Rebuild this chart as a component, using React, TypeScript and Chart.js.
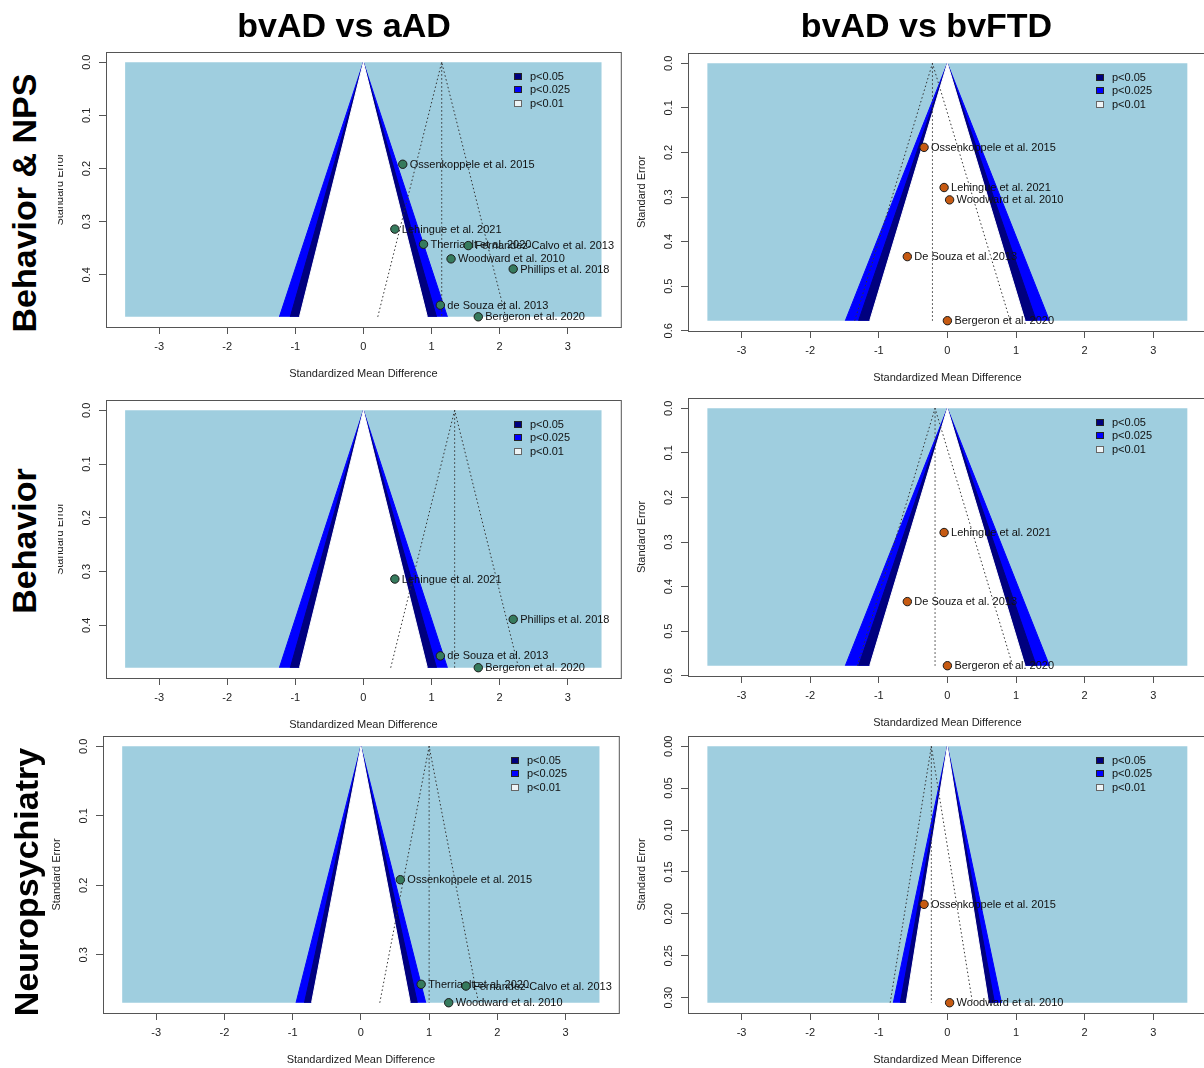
import React, { useEffect, useRef } from "react";
import { Chart, registerables } from "chart.js";

Chart.register(...registerables);

const FONT = '"Liberation Sans", Arial, Helvetica, sans-serif';

// Headings
const columnTitles = ["bvAD vs aAD", "bvAD vs bvFTD"];
const rowTitles = ["Behavior & NPS", "Behavior", "Neuropsychiatry"];

// Axis ticks
const xTickValues = [-3, -2, -1, 0, 1, 2, 3];
const yTicksAad = [0, 0.1, 0.2, 0.3, 0.4];
const yTicksFtd = [0, 0.1, 0.2, 0.3, 0.4, 0.5, 0.6];
const yTicksAadNps = [0, 0.1, 0.2, 0.3];
const yTicksFtdNps = [0, 0.05, 0.1, 0.15, 0.2, 0.25, 0.3];

// Contour legend (significance regions) and their z boundaries
const contourLabels = ["p<0.05", "p<0.025", "p<0.01"];
const contourZ = [1.96, 2.241, 2.576];

// bvAD vs aAD — Behavior & NPS
const aadBnStudies = [
  "Ossenkoppele et al. 2015",
  "Lehingue et al. 2021",
  "Therriault et al. 2020",
  "Fernandez-Calvo et al. 2013",
  "Woodward et al. 2010",
  "Phillips et al. 2018",
  "de Souza et al. 2013",
  "Bergeron et al. 2020",
];
const aadBnSmd = [0.578, 0.462, 0.883, 1.54, 1.287, 2.2, 1.13, 1.687];
const aadBnSe = [0.192, 0.314, 0.3425, 0.345, 0.37, 0.389, 0.457, 0.479];
const aadBnPooled = 1.15;

// bvAD vs aAD — Behavior
const aadBStudies = ["Lehingue et al. 2021", "Phillips et al. 2018", "de Souza et al. 2013", "Bergeron et al. 2020"];
const aadBSmd = [0.462, 2.2, 1.13, 1.687];
const aadBSe = [0.314, 0.389, 0.457, 0.479];
const aadBPooled = 1.34;

// bvAD vs aAD — Neuropsychiatry
const aadNStudies = ["Ossenkoppele et al. 2015", "Therriault et al. 2020", "Fernandez-Calvo et al. 2013", "Woodward et al. 2010"];
const aadNSmd = [0.578, 0.883, 1.54, 1.287];
const aadNSe = [0.192, 0.3425, 0.345, 0.369];
const aadNPooled = 1.0;

// bvAD vs bvFTD — Behavior & NPS
const ftdBnStudies = [
  "Ossenkoppele et al. 2015",
  "Lehingue et al. 2021",
  "Woodward et al. 2010",
  "De Souza et al. 2013",
  "Bergeron et al. 2020",
];
const ftdBnSmd = [-0.34, -0.048, 0.032, -0.584, 0.0];
const ftdBnSe = [0.1886, 0.2787, 0.3064, 0.4337, 0.5775];
const ftdBnPooled = -0.218;

// bvAD vs bvFTD — Behavior
const ftdBStudies = ["Lehingue et al. 2021", "De Souza et al. 2013", "Bergeron et al. 2020"];
const ftdBSmd = [-0.048, -0.584, 0.0];
const ftdBSe = [0.2787, 0.4337, 0.5775];
const ftdBPooled = -0.18;

// bvAD vs bvFTD — Neuropsychiatry
const ftdNStudies = ["Ossenkoppele et al. 2015", "Woodward et al. 2010"];
const ftdNSmd = [-0.34, 0.032];
const ftdNSe = [0.1886, 0.306];
const ftdNPooled = -0.234;

// Styles
const GREEN = "#367B5D";
const ORANGE = "#C65A12";
const LIGHTBLUE = "#9FCEDF";
const NAVY = "#00007E";
const BLUE = "#0000FF";
const LEGEND_FILLS = [NAVY, BLUE, "#EEF4F6"];
const AXIS = "#555";
const TEXT = "#222";

const PAD_TOP = 12;
const PAD_RIGHT = 4;
const Y_W = 53;
const X_H = 54;

type Box = { l: number; t: number; r: number; b: number };
type PanelDef = {
  studies: string[];
  smd: number[];
  se: number[];
  pooled: number;
  yTicks: number[];
  decimals: number;
  color: string;
  box: Box;
  clip?: number;
  tickPad: number;
};

const panels: PanelDef[] = [
  { studies: aadBnStudies, smd: aadBnSmd, se: aadBnSe, pooled: aadBnPooled, yTicks: yTicksAad, decimals: 1, color: GREEN, box: { l: 106, t: 52, r: 622, b: 327 }, clip: 58, tickPad: 4 },
  { studies: ftdBnStudies, smd: ftdBnSmd, se: ftdBnSe, pooled: ftdBnPooled, yTicks: yTicksFtd, decimals: 1, color: ORANGE, box: { l: 688, t: 53, r: 1208, b: 331 }, tickPad: 4 },
  { studies: aadBStudies, smd: aadBSmd, se: aadBSe, pooled: aadBPooled, yTicks: yTicksAad, decimals: 1, color: GREEN, box: { l: 106, t: 400, r: 622, b: 678 }, clip: 58, tickPad: 4 },
  { studies: ftdBStudies, smd: ftdBSmd, se: ftdBSe, pooled: ftdBPooled, yTicks: yTicksFtd, decimals: 1, color: ORANGE, box: { l: 688, t: 398, r: 1208, b: 676 }, tickPad: 4 },
  { studies: aadNStudies, smd: aadNSmd, se: aadNSe, pooled: aadNPooled, yTicks: yTicksAadNps, decimals: 1, color: GREEN, box: { l: 103, t: 736, r: 620, b: 1013 }, tickPad: 4 },
  { studies: ftdNStudies, smd: ftdNSmd, se: ftdNSe, pooled: ftdNPooled, yTicks: yTicksFtdNps, decimals: 2, color: ORANGE, box: { l: 688, t: 736, r: 1208, b: 1013 }, tickPad: 1 },
];

function FunnelPanel({ def }: { def: PanelDef }) {
  const ref = useRef<HTMLCanvasElement | null>(null);
  const { box } = def;
  const canvasLeft = box.l - Y_W;
  const canvasTop = box.t - PAD_TOP;
  const cw = box.r - box.l + Y_W + PAD_RIGHT;
  const ch = box.b - box.t + PAD_TOP + X_H;
  const wrapLeft = def.clip !== undefined ? Math.max(def.clip, canvasLeft) : canvasLeft;

  useEffect(() => {
    if (!ref.current) return;
    const m = Math.max(...def.se);
    const est = def.pooled;
    const tri = (z: number) => [
      { x: -z * m, y: m },
      { x: 0, y: 0 },
      { x: z * m, y: m },
    ];
    const dotted = {
      borderColor: "#333",
      borderWidth: 1,
      borderDash: [1.5, 2.5],
      pointRadius: 0,
      fill: false,
    };
    const datasets: any[] = [
      {
        label: "studies",
        data: def.smd.map((x, i) => ({ x, y: def.se[i] })),
        showLine: false,
        pointRadius: 4.2,
        pointBorderWidth: 1,
        pointBackgroundColor: def.color,
        pointBorderColor: "#1a1a1a",
        backgroundColor: def.color,
        borderColor: "#1a1a1a",
      },
      {
        label: "pseudo CI",
        data: [
          { x: est - 1.96 * m, y: m },
          { x: est, y: 0 },
          { x: est + 1.96 * m, y: m },
        ],
        ...dotted,
      },
      {
        label: "estimate",
        data: [
          { x: est, y: 0 },
          { x: est, y: m },
        ],
        ...dotted,
      },
      {
        label: "ns",
        data: tri(contourZ[0]),
        borderColor: "#ffffff",
        backgroundColor: "#ffffff",
        borderWidth: 1,
        pointRadius: 0,
        // reach a hair below the base so no antialiased seam shows
        fill: { value: m * 1.008 },
      },
      {
        label: contourLabels[0],
        data: tri(contourZ[1]),
        borderColor: NAVY,
        backgroundColor: NAVY,
        borderWidth: 1,
        pointRadius: 0,
        fill: { value: m },
      },
      {
        label: contourLabels[1],
        data: tri(contourZ[2]),
        borderColor: BLUE,
        backgroundColor: BLUE,
        borderWidth: 1,
        pointRadius: 0,
        fill: { value: m },
      },
      {
        label: contourLabels[2],
        data: [
          { x: -3.5, y: m },
          { x: 3.5, y: m },
        ],
        borderColor: "rgba(0,0,0,0)",
        backgroundColor: LIGHTBLUE,
        borderWidth: 1,
        pointRadius: 0,
        fill: { value: 0 },
      },
    ];

    const framePlugin = {
      id: "frame",
      afterDraw(chart: any) {
        const { ctx, chartArea } = chart;
        ctx.save();
        ctx.strokeStyle = AXIS;
        ctx.lineWidth = 1;
        ctx.strokeRect(chartArea.left + 0.5, chartArea.top + 0.5, chartArea.right - chartArea.left, chartArea.bottom - chartArea.top);
        ctx.restore();
      },
    };

    const labelPlugin = {
      id: "studyLabels",
      afterDatasetDraw(chart: any, args: any) {
        if (args.index !== 1) return;
        const meta = chart.getDatasetMeta(0);
        const ctx = chart.ctx;
        ctx.save();
        ctx.font = `11px ${FONT}`;
        ctx.fillStyle = "#111";
        ctx.textAlign = "left";
        ctx.textBaseline = "middle";
        meta.data.forEach((pt: any, i: number) => {
          ctx.fillText(def.studies[i], pt.x + 7, pt.y + 0.5);
        });
        ctx.restore();
      },
    };

    const legendPlugin = {
      id: "contourLegend",
      afterDatasetsDraw(chart: any) {
        const { ctx, chartArea } = chart;
        const lx = chartArea.left + 408;
        const ly = chartArea.top + 24;
        ctx.save();
        ctx.font = `11px ${FONT}`;
        ctx.textAlign = "left";
        ctx.textBaseline = "middle";
        contourLabels.forEach((lab, i) => {
          const y = Math.round(ly + i * 13.4);
          ctx.fillStyle = LEGEND_FILLS[i];
          ctx.fillRect(lx, y - 3, 8, 7);
          ctx.strokeStyle = i === 2 ? "#666" : "#222";
          ctx.lineWidth = 1;
          ctx.strokeRect(lx + 0.5, y - 2.5, 7, 6);
          ctx.fillStyle = "#111";
          ctx.fillText(lab, lx + 16, y + 0.5);
        });
        ctx.restore();
      },
    };

    const tickFont = { family: FONT, size: 11 };
    const chart = new Chart(ref.current, {
      type: "line",
      data: { datasets },
      options: {
        responsive: false,
        maintainAspectRatio: false,
        animation: false,
        events: [],
        layout: { padding: { top: PAD_TOP, right: PAD_RIGHT, left: 0, bottom: 0 } },
        plugins: {
          legend: { display: false },
          tooltip: { enabled: false },
        },
        elements: { line: { tension: 0 } },
        scales: {
          x: {
            type: "linear",
            min: -3.78,
            max: 3.78,
            afterBuildTicks: (s: any) => {
              s.ticks = xTickValues.map((v) => ({ value: v }));
            },
            afterFit: (s: any) => {
              s.height = X_H;
            },
            grid: { display: true, drawOnChartArea: false, drawTicks: true, tickLength: 7, color: AXIS },
            border: { display: false },
            ticks: {
              maxRotation: 0,
              minRotation: 0,
              padding: 6,
              color: TEXT,
              font: tickFont,
              callback: (v: any) => String(v),
            },
            title: { display: true, text: "Standardized Mean Difference", color: TEXT, font: tickFont, padding: 0 },
          },
          y: {
            type: "linear",
            reverse: true,
            min: -0.04 * m,
            max: 1.04 * m,
            afterBuildTicks: (s: any) => {
              s.ticks = def.yTicks.map((v) => ({ value: v }));
            },
            afterFit: (s: any) => {
              s.width = Y_W;
            },
            grid: { display: true, drawOnChartArea: false, drawTicks: true, tickLength: 7, color: AXIS },
            border: { display: false },
            ticks: {
              minRotation: 90,
              maxRotation: 90,
              crossAlign: "center",
              padding: def.tickPad,
              color: TEXT,
              font: tickFont,
              callback: (v: any) => Number(v).toFixed(def.decimals),
            },
            title: { display: true, text: "Standard Error", color: TEXT, font: tickFont, padding: 0 },
          },
        },
      } as any,
      plugins: [framePlugin, labelPlugin, legendPlugin],
    });
    return () => chart.destroy();
  }, []);

  return (
    <div
      style={{
        position: "absolute",
        left: wrapLeft,
        top: canvasTop,
        width: cw - (wrapLeft - canvasLeft),
        height: ch,
        overflow: "hidden",
      }}
    >
      <canvas
        ref={ref}
        width={cw}
        height={ch}
        style={{ position: "absolute", left: canvasLeft - wrapLeft, top: 0, width: cw, height: ch }}
      />
    </div>
  );
}

const headingStyle: React.CSSProperties = {
  position: "absolute",
  fontFamily: FONT,
  fontWeight: "bold",
  fontSize: 34,
  lineHeight: "34px",
  whiteSpace: "nowrap",
  color: "#000",
};

const colTitlePos = [
  { x: 344, y: 25 },
  { x: 926.5, y: 25 },
];
const rowTitlePos = [
  { x: 23.5, y: 203 },
  { x: 23.5, y: 541 },
  { x: 25.5, y: 882 },
];

export default function App() {
  return (
    <div
      style={{
        position: "fixed",
        left: 0,
        top: 0,
        width: 1204,
        height: 1068,
        overflow: "hidden",
        background: "#fff",
      }}
    >
      {panels.map((p, i) => (
        <FunnelPanel key={i} def={p} />
      ))}
      {columnTitles.map((t, i) => (
        <div
          key={t}
          style={{
            ...headingStyle,
            left: colTitlePos[i].x,
            top: colTitlePos[i].y,
            transform: "translate(-50%, -50%)",
          }}
        >
          {t}
        </div>
      ))}
      {rowTitles.map((t, i) => (
        <div
          key={t}
          style={{
            ...headingStyle,
            left: rowTitlePos[i].x,
            top: rowTitlePos[i].y,
            transform: "translate(-50%, -50%) rotate(-90deg)",
          }}
        >
          {t}
        </div>
      ))}
    </div>
  );
}
